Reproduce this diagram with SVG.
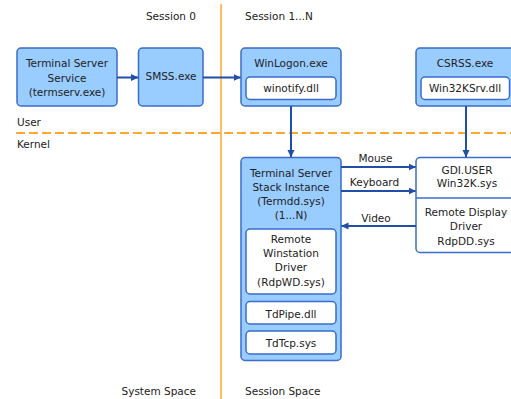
<svg xmlns="http://www.w3.org/2000/svg" width="511" height="399" viewBox="0 0 511 399">
<defs>
<style>
text{font-family:"DejaVu Sans",Verdana,sans-serif;font-size:10.5px;fill:#222}
.c{text-anchor:middle}
.e{text-anchor:end}
.box{fill:#99ccff;stroke:#3a6ccc;stroke-width:1.5}
.wbox{fill:#fff;stroke:#3a6ccc;stroke-width:1.5}
.con{stroke:#1f4fa8;stroke-width:2;fill:none}
.orange{stroke:#ffa733;stroke-width:2;fill:none}
</style>
<marker id="ah" markerWidth="8" markerHeight="8" refX="7" refY="4" orient="auto" markerUnits="userSpaceOnUse">
<path d="M0,0.5 L7.5,4 L0,7.5 Z" fill="#1f4fa8"/>
</marker>
</defs>
<rect width="511" height="399" fill="#fff"/>

<g id="separators">
<line class="orange" x1="221" y1="4" x2="221" y2="399" style="stroke-width:1.5"/>
<line class="orange" x1="16" y1="133" x2="511" y2="133" stroke-dasharray="9,4"/>
</g>

<g id="labels">
<text x="196" y="20" class="e">Session 0</text>
<text x="245" y="20">Session 1...N</text>
<text x="17" y="126">User</text>
<text x="17" y="148">Kernel</text>
<text x="196" y="395" class="e">System Space</text>
<text x="245" y="395">Session Space</text>
</g>

<g id="termserv">
<rect class="box" x="17" y="48" width="100" height="58" rx="4"/>
<text x="67" y="67" class="c">Terminal Server</text>
<text x="67" y="81.5" class="c">Service</text>
<text x="67" y="96" class="c">(termserv.exe)</text>
</g>

<g id="smss">
<rect class="box" x="138.5" y="48" width="64.5" height="58" rx="4"/>
<text x="171" y="80" class="c">SMSS.exe</text>
</g>

<g id="winlogon">
<rect class="box" x="241" y="48" width="100" height="58" rx="4"/>
<text x="291" y="67" class="c">WinLogon.exe</text>
<rect class="wbox" x="246" y="77" width="90" height="22.5" rx="4"/>
<text x="291" y="92" class="c">winotify.dll</text>
</g>

<g id="csrss">
<rect class="box" x="416" y="48" width="104" height="58" rx="4"/>
<text x="465" y="67" class="c">CSRSS.exe</text>
<rect class="wbox" x="421" y="77" width="88.5" height="22.5" rx="4"/>
<text x="465" y="92" class="c">Win32KSrv.dll</text>
</g>

<g id="stack">
<rect class="box" x="241" y="157.5" width="100" height="203" rx="4"/>
<text x="291" y="177" class="c">Terminal Server</text>
<text x="291" y="190.5" class="c">Stack Instance</text>
<text x="291" y="204.5" class="c">(Termdd.sys)</text>
<text x="291" y="218.5" class="c">(1...N)</text>
<rect class="wbox" x="246" y="229" width="90" height="65" rx="4"/>
<text x="291" y="243" class="c">Remote</text>
<text x="291" y="257" class="c">Winstation</text>
<text x="291" y="271" class="c">Driver</text>
<text x="291" y="285.5" class="c">(RdpWD.sys)</text>
<rect class="wbox" x="246" y="301.5" width="90" height="22.5" rx="4"/>
<text x="291" y="317.5" class="c">TdPipe.dll</text>
<rect class="wbox" x="246" y="331" width="90" height="23" rx="4"/>
<text x="291" y="347" class="c">TdTcp.sys</text>
</g>

<g id="gdi">
<rect class="wbox" x="416" y="157.5" width="104" height="95" rx="4"/>
<line x1="416" y1="198" x2="511" y2="198" stroke="#3a6ccc" stroke-width="1.5"/>
<text x="467" y="173.5" class="c">GDI.USER</text>
<text x="467" y="187" class="c">Win32K.sys</text>
<text x="466" y="216" class="c">Remote Display</text>
<text x="466" y="230" class="c">Driver</text>
<text x="466" y="244.5" class="c">RdpDD.sys</text>
</g>

<g id="connectors">
<line class="con" x1="117" y1="77.5" x2="138" y2="77.5" marker-end="url(#ah)"/>
<line class="con" x1="203" y1="77.5" x2="240.5" y2="77.5" marker-end="url(#ah)"/>
<line class="con" x1="291" y1="106" x2="291" y2="157" marker-end="url(#ah)"/>
<line class="con" x1="466" y1="106" x2="466" y2="157" marker-end="url(#ah)"/>
<line class="con" x1="341" y1="167" x2="415.5" y2="167" marker-end="url(#ah)"/>
<line class="con" x1="341" y1="191" x2="415.5" y2="191" marker-end="url(#ah)"/>
<line class="con" x1="416" y1="226" x2="341.5" y2="226" marker-end="url(#ah)"/>
<text x="375.5" y="162" class="c">Mouse</text>
<text x="374.5" y="186" class="c">Keyboard</text>
<text x="376" y="221.5" class="c">Video</text>
</g>
</svg>
